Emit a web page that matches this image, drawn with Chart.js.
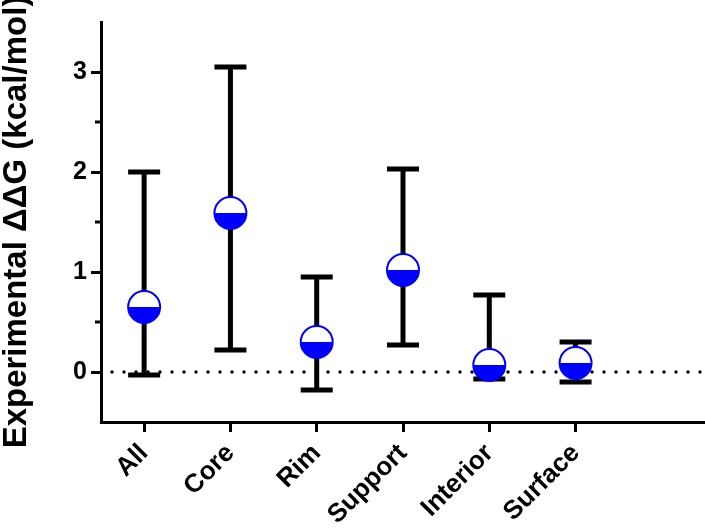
<!DOCTYPE html>
<html>
<head>
<meta charset="utf-8">
<script src="https://cdn.jsdelivr.net/npm/chart.js@4.4.0/dist/chart.umd.min.js"></script>
<style>
  html, body { margin: 0; padding: 0; background: #fff; }
  #chart-container { width: 705px; height: 528px; }
</style>
</head>
<body>
<div id="chart-container"><canvas id="myChart"></canvas></div>
<script>
// Values
const categories = ["All", "Core", "Rim", "Support", "Interior", "Surface"];
const meanDDG = [0.65, 1.59, 0.30, 1.02, 0.07, 0.09];
const upperDDG = [2.00, 3.05, 0.95, 2.03, 0.77, 0.30];
const lowerDDG = [-0.03, 0.22, -0.18, 0.27, -0.07, -0.10];
const yTicks = [0, 1, 2, 3];
const yMinorTicks = [0.5, 1.5, 2.5];

const FONT = "'Liberation Sans', Arial, Helvetica, sans-serif";

// error bars, zero line and half-filled markers
const errorBarPlugin = {
  id: "errorBars",
  beforeDatasetsDraw(chart) {
    const { ctx, chartArea, scales: { x, y } } = chart;
    ctx.save();

    // dotted line at zero
    const y0 = y.getPixelForValue(0);
    ctx.fillStyle = "#000";
    for (let px = chartArea.left + 11; px < chartArea.right; px += 12) {
      ctx.beginPath();
      ctx.arc(px, y0, 1.7, 0, 2 * Math.PI);
      ctx.fill();
    }

    // short minor ticks on y axis
    ctx.strokeStyle = "#000";
    ctx.lineWidth = 3;
    yMinorTicks.forEach((v) => {
      const py = y.getPixelForValue(v);
      ctx.beginPath();
      ctx.moveTo(chartArea.left - 6, py);
      ctx.lineTo(chartArea.left, py);
      ctx.stroke();
    });

    // whiskers
    ctx.lineWidth = 5;
    categories.forEach((c, i) => {
      const px = x.getPixelForValue(i);
      const top = y.getPixelForValue(upperDDG[i]);
      const bot = y.getPixelForValue(lowerDDG[i]);
      ctx.beginPath();
      ctx.moveTo(px, top);
      ctx.lineTo(px, bot);
      ctx.moveTo(px - 16, top);
      ctx.lineTo(px + 16, top);
      ctx.moveTo(px - 16, bot);
      ctx.lineTo(px + 16, bot);
      ctx.stroke();
    });
    ctx.restore();
  },
  afterDatasetsDraw(chart) {
    const { ctx } = chart;
    const meta = chart.getDatasetMeta(0);
    const r = 16;
    ctx.save();
    meta.data.forEach((pt) => {
      ctx.beginPath();
      ctx.arc(pt.x, pt.y, r, 0, 2 * Math.PI);
      ctx.fillStyle = "#fff";
      ctx.fill();
      // bottom half blue
      ctx.beginPath();
      ctx.arc(pt.x, pt.y, r, 0, Math.PI);
      ctx.closePath();
      ctx.fillStyle = "#0000ff";
      ctx.fill();
      ctx.beginPath();
      ctx.arc(pt.x, pt.y, r, 0, 2 * Math.PI);
      ctx.lineWidth = 2;
      ctx.strokeStyle = "#0000ff";
      ctx.stroke();
    });
    ctx.restore();
  },
};

const ctx = document.getElementById("myChart").getContext("2d");

const chart = new Chart(ctx, {
  type: "scatter",
  data: {
    datasets: [
      {
        label: "Experimental ddG",
        data: meanDDG.map((v, i) => ({ x: i, y: v })),
        pointRadius: 0,
        showLine: false,
      },
    ],
  },
  options: {
    responsive: true,
    maintainAspectRatio: false,
    animation: false,
    layout: { padding: { top: 22, right: 0, left: 0, bottom: 0 } },
    plugins: {
      legend: { display: false },
      tooltip: { enabled: false },
    },
    scales: {
      x: {
        type: "linear",
        min: -0.5,
        max: 6.5,
        afterBuildTicks: (s) => {
          s.ticks = categories.map((c, i) => ({ value: i }));
        },
        afterFit: (s) => {
          s.height = 106;
          s.paddingLeft = 0;
          s.paddingRight = 0;
        },
        grid: {
          drawOnChartArea: false,
          drawTicks: true,
          tickLength: 10,
          tickWidth: 3,
          tickColor: "#000",
        },
        border: { display: true, width: 3, color: "#000" },
        ticks: {
          autoSkip: false,
          minRotation: 45,
          maxRotation: 45,
          padding: 6,
          color: "#000",
          font: { family: FONT, size: 26, weight: "bold" },
          callback: (v) => categories[v],
        },
      },
      y: {
        min: -0.5,
        max: 3.5,
        afterBuildTicks: (s) => {
          s.ticks = yTicks.map((v) => ({ value: v }));
        },
        afterFit: (s) => {
          s.width = 101;
          s.paddingTop = 0;
          s.paddingBottom = 0;
        },
        grid: {
          drawOnChartArea: false,
          drawTicks: true,
          tickLength: 10,
          tickWidth: 3,
          tickColor: "#000",
        },
        border: { display: true, width: 3, color: "#000" },
        ticks: {
          padding: 4,
          color: "#000",
          font: { family: FONT, size: 25, weight: "bold" },
          callback: (v) => String(v),
        },
        title: {
          display: true,
          text: "Experimental \u0394\u0394G (kcal/mol)",
          color: "#000",
          padding: 0,
          font: { family: FONT, size: 33, weight: "bold", lineHeight: 1 },
        },
      },
    },
  },
  plugins: [errorBarPlugin],
});
</script>
</body>
</html>
